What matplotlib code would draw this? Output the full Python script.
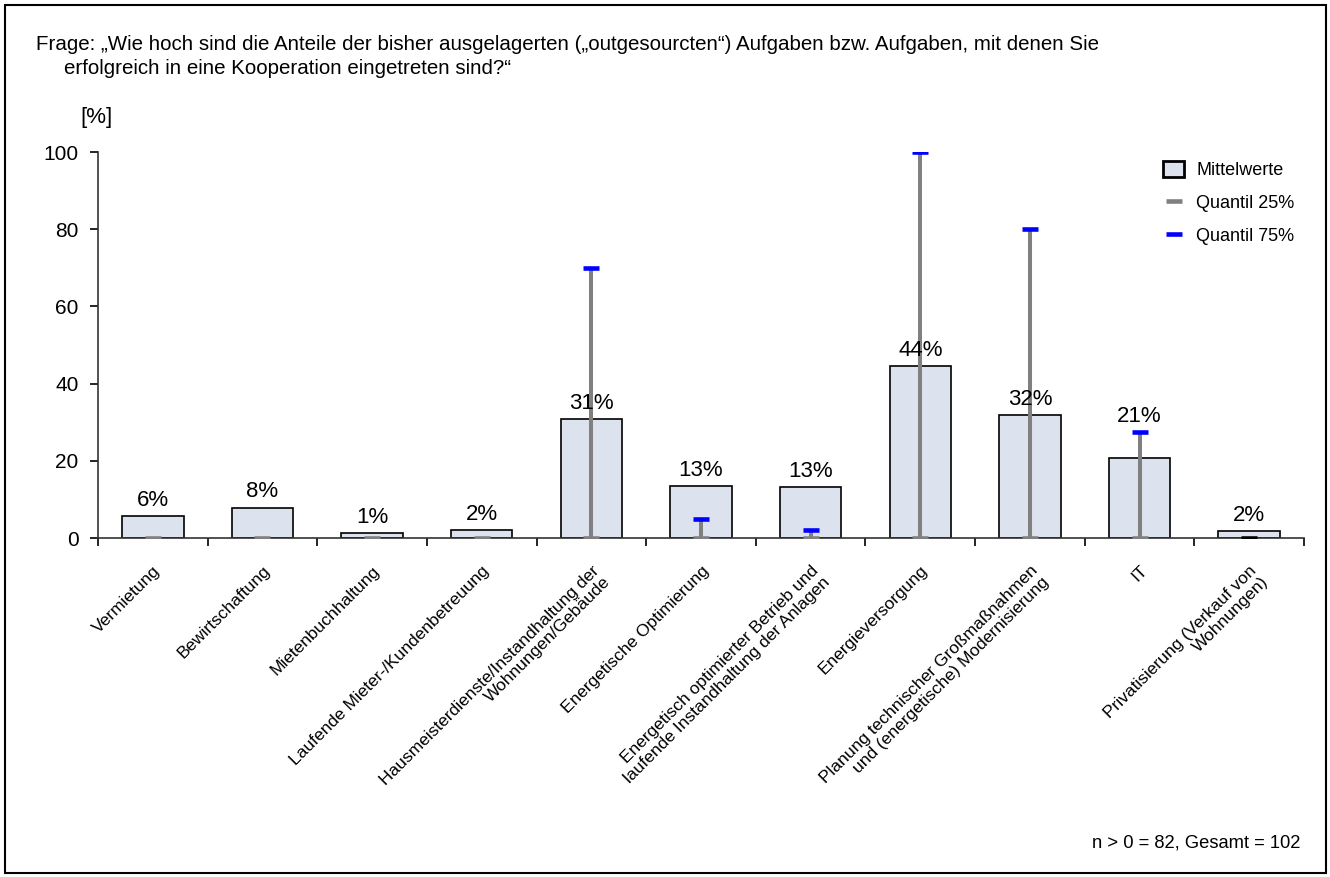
import numpy as np
import matplotlib.pyplot as plt
from matplotlib.patches import Rectangle, Patch
from matplotlib.lines import Line2D

plt.rcParams['font.family'] = ['Liberation Sans', 'DejaVu Sans']

kategorien = [
    "Vermietung",
    "Bewirtschaftung",
    "Mietenbuchhaltung",
    "Laufende Mieter-/Kundenbetreuung",
    "Hausmeisterdienste/Instandhaltung der\nWohnungen/Gebäude",
    "Energetische Optimierung",
    "Energetisch optimierter Betrieb und\nlaufende Instandhaltung der Anlagen",
    "Energieversorgung",
    "Planung technischer Großmaßnahmen\nund (energetische) Modernisierung",
    "IT",
    "Privatisierung (Verkauf von\nWohnungen)",
]
mittelwerte = [5.8, 7.9, 1.2, 2.1, 30.8, 13.5, 13.1, 44.5, 31.9, 20.7, 1.9]
labels = ["6%", "8%", "1%", "2%", "31%", "13%", "13%", "44%", "32%", "21%", "2%"]
quantil25 = [0, 0, 0, 0, 0, 0, 0, 0, 0, 0, 0]
quantil75 = [0, 0, 0, 0, 70, 5, 2, 100, 80, 27.5, 0]

fig = plt.figure(figsize=(13.3, 8.77), dpi=100)
ax = fig.add_axes([98 / 1330, 1 - 538 / 877, (1304 - 98) / 1330, (538 - 152) / 877])

x = np.arange(len(kategorien))
ax.bar(x, mittelwerte, width=0.56, color='#dde3ee', edgecolor='black', linewidth=1.2, zorder=2)

for i in range(len(x)):
    # label sits above the bar, or above the 75% marker if that is just over the bar
    ytxt = mittelwerte[i]
    if 0 < quantil75[i] - mittelwerte[i] < 10:
        ytxt = quantil75[i]
    ax.text(x[i], ytxt + 1.3, labels[i], ha='center', va='bottom', fontsize=16, zorder=5)
    if quantil75[i] > quantil25[i]:
        ax.plot([x[i], x[i]], [quantil25[i], quantil75[i]], color='#808080', linewidth=2.9,
                solid_capstyle='butt', zorder=3)
        ax.plot(x[i], quantil75[i], marker='_', markersize=12.2, mew=3.3, color='#0000ff', zorder=4)
    mc = '#808080' if i < len(x) - 1 else 'black'
    ax.plot(x[i], quantil25[i], marker='_', markersize=12.2, mew=3.3, color=mc, zorder=4)

ax.set_xlim(-0.5, len(x) - 0.5)
ax.set_ylim(0, 100)
ax.set_yticks([0, 20, 40, 60, 80, 100])
ax.tick_params(axis='y', labelsize=15, length=6, width=1.2, direction='out', pad=8)
ax.set_xticks(x)
ax.set_xticklabels(kategorien, rotation=45, ha='right', rotation_mode='anchor', fontsize=12.5,
                   linespacing=1.1)
ax.tick_params(axis='x', which='major', length=0, pad=18)
ax.set_xticks(np.arange(-0.5, len(x)), minor=True)
ax.tick_params(axis='x', which='minor', length=6, width=1.2, direction='out')

for s in ['top', 'right']:
    ax.spines[s].set_visible(False)
for s in ['left', 'bottom']:
    ax.spines[s].set_linewidth(1.2)
    ax.spines[s].set_color('#333333')

handles = [
    Patch(facecolor='#dde3ee', edgecolor='black', linewidth=2),
    Line2D([], [], color='#808080', marker='_', markersize=11, mew=3.3, linestyle='none'),
    Line2D([], [], color='#0000ff', marker='_', markersize=11, mew=3.3, linestyle='none'),
]
fig.legend(handles, ["Mittelwerte", "Quantil 25%", "Quantil 75%"], loc='upper left',
           bbox_to_anchor=(1163 / 1330, 1 - 161 / 877), frameon=False, fontsize=13,
           handlelength=1.17, handleheight=1.0, handletextpad=0.67, labelspacing=0.8,
           borderpad=0, borderaxespad=0)

fig.text(36 / 1330, 1 - 45 / 877,
         "Frage: „Wie hoch sind die Anteile der bisher ausgelagerten („outgesourcten“) Aufgaben bzw. Aufgaben, mit denen Sie",
         fontsize=14.8, va='center', ha='left')
fig.text(64 / 1330, 1 - 69 / 877, "erfolgreich in eine Kooperation eingetreten sind?“",
         fontsize=14.8, va='center', ha='left')
fig.text(80 / 1330, 1 - 117 / 877, "[%]", fontsize=16, va='center', ha='left')
fig.text(1300 / 1330, 1 - 843 / 877, "n > 0 = 82, Gesamt = 102", fontsize=13.2, va='center', ha='right')

fig.add_artist(Rectangle((5 / 1330, 4 / 877), 1321 / 1330, 868 / 877, transform=fig.transFigure,
                         fill=False, edgecolor='black', linewidth=1.5))

fig.savefig('out.png', dpi=100)
